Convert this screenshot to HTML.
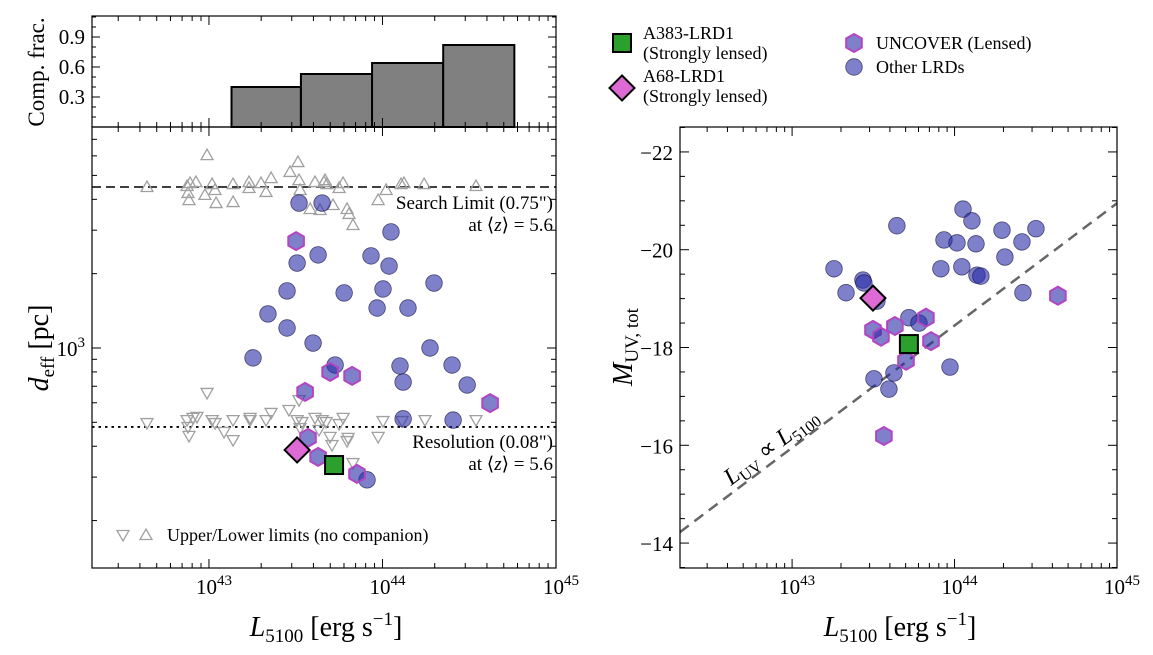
<!DOCTYPE html>
<html><head><meta charset="utf-8"><style>
body{margin:0;background:#fff;}
svg{display:block;font-family:"Liberation Serif",serif;}
</style></head><body>
<svg id="fig" width="1153" height="655" viewBox="0 0 1153 655" xmlns="http://www.w3.org/2000/svg"></svg>
<script>
// ---------- DATA ----------
const histEdges = [43.13, 43.53, 43.94, 44.35, 44.76];
const histFrac = [0.40, 0.53, 0.64, 0.82];
const fracTicks = [0.3, 0.6, 0.9];

const lrdL = [43.519,43.652,44.049,43.629,43.508,43.934,44.038,43.450,43.779,44.003,44.297,43.340,43.969,44.147,43.450,43.600,44.274,43.254,43.727,44.401,44.101,44.119,44.488,44.119,44.407,43.911];
const lrdLogD = [3.587,3.587,3.470,3.377,3.344,3.373,3.332,3.231,3.223,3.239,3.263,3.138,3.162,3.162,3.081,3.020,3.000,2.960,2.931,2.931,2.927,2.862,2.850,2.713,2.708,2.466];
const uncL = [43.502,43.554,43.698,43.825,44.620,43.571,43.629,43.853];
const uncLogD = [3.433,2.822,2.903,2.887,2.777,2.636,2.559,2.490];
const a68 = [43.508, 2.587];
const a383 = [43.721, 2.526];
const lowL = [42.643,42.874,42.891,42.925,42.879,42.885,42.989,43.018,43.035,42.977,43.041,43.139,43.139,43.231,43.231,43.300,43.329,43.358,43.467,43.513,43.519,43.525,43.611,43.663,43.669,43.680,43.773,43.750,43.715,43.796,43.807,43.830,44.021,43.975,44.107,44.124,44.240,44.539,43.640,43.583];
const lowLogD = [3.652,3.656,3.668,3.672,3.628,3.599,3.781,3.664,3.640,3.620,3.587,3.591,3.664,3.672,3.648,3.668,3.632,3.688,3.713,3.753,3.680,3.640,3.672,3.672,3.680,3.664,3.668,3.648,3.579,3.563,3.543,3.498,3.640,3.599,3.664,3.668,3.664,3.656,3.559,3.563];
const upL = [42.643,42.874,42.908,42.931,42.879,42.885,42.989,43.018,43.035,43.087,43.139,43.139,43.237,43.237,43.329,43.358,43.461,43.519,43.508,43.536,43.525,43.611,43.652,43.675,43.773,43.750,43.802,43.796,43.709,43.830,44.003,43.975,44.113,44.245,44.539,43.634,43.698];
const upLogD = [2.696,2.708,2.717,2.721,2.680,2.644,2.818,2.708,2.696,2.660,2.627,2.708,2.717,2.708,2.708,2.737,2.749,2.789,2.708,2.700,2.676,2.717,2.708,2.700,2.717,2.692,2.636,2.623,2.607,2.534,2.704,2.640,2.704,2.708,2.708,2.668,2.640];
const searchLimit = 4490, resolution = 479;

const rL = [44.052,44.107,43.645,44.292,44.501,43.935,44.015,44.132,44.415,44.310,43.258,43.916,44.045,44.138,44.162,43.436,43.442,43.332,44.421,43.522,43.719,43.781,43.972,43.627,43.504,43.596];
const rM = [-20.83,-20.59,-20.49,-20.40,-20.43,-20.20,-20.14,-20.12,-20.16,-19.85,-19.61,-19.61,-19.65,-19.48,-19.46,-19.38,-19.32,-19.12,-19.12,-18.95,-18.61,-18.50,-17.60,-17.48,-17.36,-17.15];
const rUncL = [44.636,43.824,43.633,43.498,43.547,43.855,43.701,43.565];
const rUncM = [-19.06,-18.61,-18.44,-18.36,-18.22,-18.13,-17.73,-16.19];
const rA68 = [43.498, -19.01];
const rA383 = [43.719, -18.07];
const relAt44 = -18.45, relSlope = -2.5;
const xTickExp = [43, 44, 45];
const mTicks = [-22, -20, -18, -16, -14];

// ---------- HELPERS ----------
const NS = "http://www.w3.org/2000/svg";
const svg = document.getElementById('fig');
function el(tag, attrs, parent, text){
  const e = document.createElementNS(NS, tag);
  for (const k in attrs) e.setAttribute(k, attrs[k]);
  if (text !== undefined) e.textContent = text;
  (parent || svg).appendChild(e);
  return e;
}
const L = {x0:92, x1:556, lmin:42.326, lmax:45.0};
const lx = v => L.x0 + (v - L.lmin) / (L.lmax - L.lmin) * (L.x1 - L.x0);
const dTop = 127, dBot = 568, dmin = 2.109, dmax = 3.895;
const ly = v => dBot - (v - dmin) / (dmax - dmin) * (dBot - dTop);
const hTop = 16, hBot = 127, fmax = 1.11;
const hy = v => hBot - v / fmax * (hBot - hTop);
const R = {x0:680, x1:1117, lmin:42.31, lmax:45.0, y0:127, y1:568, mmin:-22.51, mmax:-13.49};
const rx = v => R.x0 + (v - R.lmin) / (R.lmax - R.lmin) * (R.x1 - R.x0);
const ry = v => R.y0 + (v - R.mmin) / (R.mmax - R.mmin) * (R.y1 - R.y0);

const cFill = "rgba(40,44,165,0.6)", cStroke = "rgba(20,20,70,0.7)";
function circle(g, x, y, name){
  const c = el('circle', {cx:x, cy:y, r:8.3, fill:cFill, stroke:cStroke, 'stroke-width':0.8}, g);
  
  
}
function hex(g, x, y, name){
  let p = [];
  for (let i=0;i<6;i++){ const a = Math.PI/6 + i*Math.PI/3; p.push((x+9*Math.cos(a)).toFixed(1)+','+(y+9*Math.sin(a)).toFixed(1)); }
  const h = el('polygon', {points:p.join(' '), fill:cFill, stroke:"#b444c4", 'stroke-width':2}, g);
  
  
}
function diamond(g, x, y, name){
  const s = 12.5;
  const d = el('polygon', {points:`${x},${y-s} ${x+s},${y} ${x},${y+s} ${x-s},${y}`, fill:"#de6ad6", stroke:"#000", 'stroke-width':2}, g);
  
  
}
function square(g, x, y, name){
  const s = 9;
  const q = el('rect', {x:x-s, y:y-s, width:2*s, height:2*s, fill:"#2ca02c", stroke:"#000", 'stroke-width':2}, g);
  
  
}
function tri(g, x, y, up, name){
  const s = 6;
  const pts = up ? `${x},${y-s} ${x+s},${y+s*0.75} ${x-s},${y+s*0.75}` : `${x},${y+s} ${x+s},${y-s*0.75} ${x-s},${y-s*0.75}`;
  const t = el('polygon', {points:pts, fill:"none", stroke:"#a0a0a0", 'stroke-width':1.3}, g);
  
  
}
function xTicks(g, xf, lmin, lmax, yb, yt, labels){
  for (let e = 42; e <= 45; e++){
    for (let m = 1; m < 10; m++){
      const v = e + Math.log10(m);
      if (v < lmin || v > lmax + 1e-6) continue;
      const len = m === 1 ? 9 : 5;
      const x = xf(v);
      el('line', {x1:x, x2:x, y1:yb, y2:yb-len, stroke:"#000", 'stroke-width':1}, g);
      el('line', {x1:x, x2:x, y1:yt, y2:yt+len, stroke:"#000", 'stroke-width':1}, g);
    }
  }
  if (labels) xTickExp.forEach(e => {
    const t = el('text', {x:xf(e)+5, y:yb+26, 'text-anchor':'middle', 'font-size':21}, g);
    
    
    el('tspan', {}, t, '10');
    el('tspan', {dy:-9, 'font-size':15}, t, String(e));
  });
}

// ---------- TOP HISTOGRAM ----------
const gh = el('g', {});
histFrac.forEach((f, i) => {
  const b = el('rect', {x:lx(histEdges[i]), y:hy(f), width:lx(histEdges[i+1]) - lx(histEdges[i]), height:hBot - hy(f), fill:"#808080", stroke:"#000", 'stroke-width':2}, gh);
  
  
});
el('rect', {x:L.x0, y:hTop, width:L.x1-L.x0, height:hBot-hTop, fill:"none", stroke:"#000", 'stroke-width':1.2}, gh);
fracTicks.forEach(f => {
  el('line', {x1:L.x0, x2:L.x0+8, y1:hy(f), y2:hy(f), stroke:"#000"}, gh);
  el('line', {x1:L.x1, x2:L.x1-8, y1:hy(f), y2:hy(f), stroke:"#000"}, gh);
  const t = el('text', {x:L.x0-7, y:hy(f)+7, 'text-anchor':'end', 'font-size':21}, gh, f.toFixed(1));
  
  
});
for (let f = 0.1; f < 1.1; f += 0.1){
  if (fracTicks.some(v => Math.abs(v-f) < 1e-6)) continue;
  el('line', {x1:L.x0, x2:L.x0+4, y1:hy(f), y2:hy(f), stroke:"#000"}, gh);
  el('line', {x1:L.x1, x2:L.x1-4, y1:hy(f), y2:hy(f), stroke:"#000"}, gh);
}
xTicks(gh, lx, L.lmin, L.lmax, hBot, hTop, false);
el('text', {x:44, y:72, 'text-anchor':'middle', 'font-size':23, transform:'rotate(-90 44 72)', }, gh, 'Comp. frac.');

// ---------- LEFT MAIN ----------
const gl = el('g', {});
el('line', {x1:L.x0, x2:L.x1, y1:ly(Math.log10(searchLimit)), y2:ly(Math.log10(searchLimit)), stroke:"#000", 'stroke-width':1.5, 'stroke-dasharray':'9,5', }, gl);
el('line', {x1:L.x0, x2:L.x1, y1:ly(Math.log10(resolution)), y2:ly(Math.log10(resolution)), stroke:"#000", 'stroke-width':1.8, 'stroke-dasharray':'2.5,4', }, gl);
lowL.forEach((v, i) => tri(gl, lx(v), ly(lowLogD[i]), true, 'lower-limit-marker'));
upL.forEach((v, i) => tri(gl, lx(v), ly(upLogD[i]), false, 'upper-limit-marker'));
lrdL.forEach((v, i) => circle(gl, lx(v), ly(lrdLogD[i]), 'other-lrd-point'));
uncL.forEach((v, i) => hex(gl, lx(v), ly(uncLogD[i]), 'uncover-point'));
diamond(gl, lx(a68[0]), ly(a68[1]), 'a68-lrd1-point');
square(gl, lx(a383[0]), ly(a383[1]), 'a383-lrd1-point');
el('rect', {x:L.x0, y:dTop, width:L.x1-L.x0, height:dBot-dTop, fill:"none", stroke:"#000", 'stroke-width':1.2}, gl);
for (let e = 2; e <= 3; e++) for (let m = 1; m < 10; m++){
  const v = e + Math.log10(m);
  if (v < dmin || v > dmax) continue;
  const len = m === 1 ? 9 : 5;
  el('line', {x1:L.x0, x2:L.x0+len, y1:ly(v), y2:ly(v), stroke:"#000"}, gl);
  el('line', {x1:L.x1, x2:L.x1-len, y1:ly(v), y2:ly(v), stroke:"#000"}, gl);
}
{ const t = el('text', {x:L.x0-7, y:ly(3)+8, 'text-anchor':'end', 'font-size':21, }, gl);
  el('tspan', {}, t, '10'); el('tspan', {dy:-9, 'font-size':15}, t, '3'); }
xTicks(gl, lx, L.lmin, L.lmax, dBot, dTop, true);
const tx = (x,y,s,anchor,name,size) => { const t = el('text', {x, y, 'text-anchor':anchor, 'font-size':size||19}, gl, s);   return t; };
tx(553, 209, 'Search Limit (0.75")', 'end', 'search-limit-text');
{ const t = tx(553, 231, 'at ⟨', 'end', 'search-limit-z'); el('tspan',{'font-style':'italic'},t,'z'); el('tspan',{},t,'⟩ = 5.6'); }
tx(553, 448, 'Resolution (0.08")', 'end', 'resolution-text');
{ const t = tx(553, 470, 'at ⟨', 'end', 'resolution-z'); el('tspan',{'font-style':'italic'},t,'z'); el('tspan',{},t,'⟩ = 5.6'); }
tri(gl, 123, 535, false, 'legend-upper-limit');
tri(gl, 146, 535, true, 'legend-lower-limit');
tx(167, 541, 'Upper/Lower limits (no companion)', 'start', 'limits-legend-text', 18);
{ const t = el('text', {x:48, y:348, 'text-anchor':'middle', 'font-size':28, transform:'rotate(-90 48 348)', }, gl);
  el('tspan', {'font-style':'italic'}, t, 'd'); el('tspan', {'font-size':19, dy:6}, t, 'eff'); el('tspan', {dy:-6}, t, ' [pc]'); }
{ const t = el('text', {x:326, y:636, 'text-anchor':'middle', 'font-size':28, }, gl);
  el('tspan', {'font-style':'italic'}, t, 'L'); el('tspan', {'font-size':19, dy:6}, t, '5100'); el('tspan', {dy:-6}, t, ' [erg s'); el('tspan', {'font-size':19, dy:-11}, t, '−1'); el('tspan', {dy:11}, t, ']'); }

// ---------- RIGHT PANEL ----------
const gr = el('g', {});
{ const xa = R.lmin, xb = R.lmax;
  el('line', {x1:rx(xa), y1:ry(relAt44 + relSlope*(xa-44)), x2:rx(xb), y2:ry(relAt44 + relSlope*(xb-44)), stroke:"#666", 'stroke-width':2.5, 'stroke-dasharray':'11,7', }, gr); }
rL.forEach((v, i) => circle(gr, rx(v), ry(rM[i]), 'other-lrd-point'));
rUncL.forEach((v, i) => hex(gr, rx(v), ry(rUncM[i]), 'uncover-point'));
diamond(gr, rx(rA68[0]), ry(rA68[1]), 'a68-lrd1-point');
square(gr, rx(rA383[0]), ry(rA383[1]), 'a383-lrd1-point');
el('rect', {x:R.x0, y:R.y0, width:R.x1-R.x0, height:R.y1-R.y0, fill:"none", stroke:"#000", 'stroke-width':1.2}, gr);
for (let m = -22.5; m <= -13.5; m += 0.5){
  const major = mTicks.includes(m); const len = major ? 9 : 5;
  el('line', {x1:R.x0, x2:R.x0+len, y1:ry(m), y2:ry(m), stroke:"#000"}, gr);
  el('line', {x1:R.x1, x2:R.x1-len, y1:ry(m), y2:ry(m), stroke:"#000"}, gr);
}
mTicks.forEach(m => {
  const t = el('text', {x:R.x0-7, y:ry(m)+8, 'text-anchor':'end', 'font-size':21}, gr, m < 0 ? '−' + Math.abs(m) : String(m));
  
  
});
xTicks(gr, rx, R.lmin, R.lmax, R.y1, R.y0, true);
{ const t = el('text', {x:0, y:0, 'font-size':24, transform:'translate(731,486) rotate(-37)', }, gr);
  el('tspan', {'font-style':'italic'}, t, 'L'); el('tspan', {'font-size':16, dy:5}, t, 'UV'); el('tspan', {dy:-5}, t, ' ∝ '); el('tspan', {'font-style':'italic'}, t, 'L'); el('tspan', {'font-size':16, dy:5}, t, '5100'); }
{ const t = el('text', {x:632, y:347, 'text-anchor':'middle', 'font-size':28, transform:'rotate(-90 632 347)', }, gr);
  el('tspan', {'font-style':'italic'}, t, 'M'); el('tspan', {'font-size':19, dy:6}, t, 'UV, tot'); }
{ const t = el('text', {x:900, y:636, 'text-anchor':'middle', 'font-size':28, }, gr);
  el('tspan', {'font-style':'italic'}, t, 'L'); el('tspan', {'font-size':19, dy:6}, t, '5100'); el('tspan', {dy:-6}, t, ' [erg s'); el('tspan', {'font-size':19, dy:-11}, t, '−1'); el('tspan', {dy:11}, t, ']'); }

// ---------- LEGEND ----------
const gg = el('g', {});
square(gg, 622, 43, 'legend-a383-marker');
el('text', {x:643, y:39, 'font-size':18, }, gg, 'A383-LRD1');
el('text', {x:643, y:59, 'font-size':18, }, gg, '(Strongly lensed)');
diamond(gg, 622, 88, 'legend-a68-marker');
el('text', {x:643, y:82, 'font-size':18, }, gg, 'A68-LRD1');
el('text', {x:643, y:102, 'font-size':18, }, gg, '(Strongly lensed)');
hex(gg, 854, 43, 'legend-uncover-marker');
el('text', {x:876, y:49, 'font-size':18, }, gg, 'UNCOVER (Lensed)');
circle(gg, 854, 67, 'legend-other-marker');
el('text', {x:876, y:73, 'font-size':18, }, gg, 'Other LRDs');
</script>
</body></html>
